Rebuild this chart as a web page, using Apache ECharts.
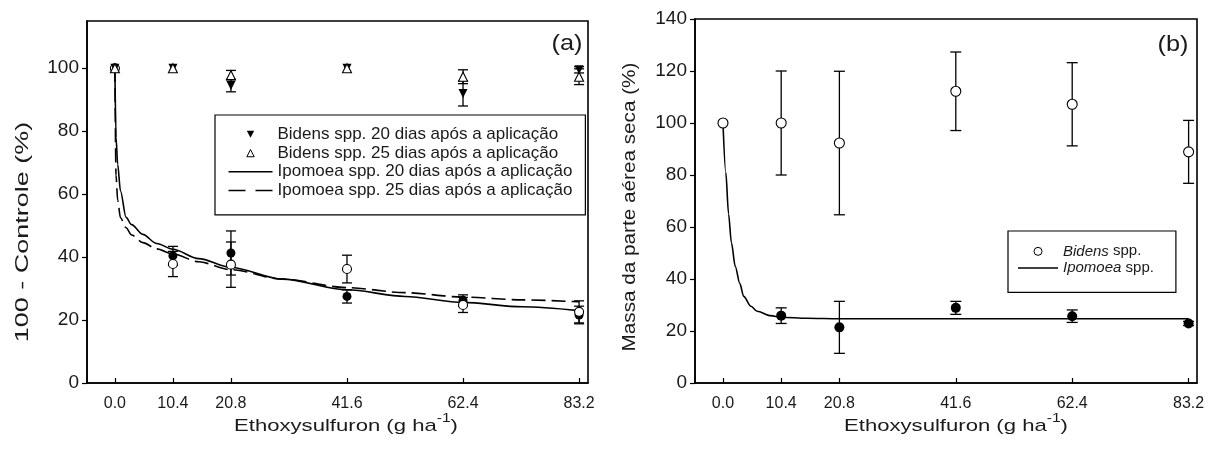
<!DOCTYPE html>
<html><head><meta charset="utf-8">
<script src="https://cdn.jsdelivr.net/npm/echarts@6/dist/echarts.min.js"></script>
<style>html,body{margin:0;padding:0;background:#fff}#c{width:1208px;height:458px}</style>
</head><body><div id="c"></div>
<script>
// ---------- data ----------
const doses = [0, 10.4, 20.8, 41.6, 62.4, 83.2];
const yTicksA = [0, 20, 40, 60, 80, 100];
const yTicksB = [0, 20, 40, 60, 80, 100, 120, 140];

// panel (a)
const bidens20 = [100, 100, 94.5, 100, 92, 99.5];
const bidens20Err = [0, 0, 2, 0, 4, 1];
const bidens25 = [100, 100, 97.8, 100, 97.3, 97.3];
const bidens25Err = [0, 0, 1.5, 0, 2.2, 2.5];
const ipo20 = [100, 40.4, 41.3, 27.5, 26.2, 21.6];
const ipo20Err = [0, 3, 7, 2.1, 1.8, 2.8];
const ipo25 = [100, 37.8, 37.6, 36.2, 24.8, 22.6];
const ipo25Err = [0, 4, 7.2, 4.4, 2.4, 3.5];
const fitXA = [0, 0.2, 0.5, 1, 2, 3, 5, 7.5, 10.4, 15, 20.8, 30, 41.6, 52, 62.4, 73, 83.2];
const ipo20Fit = [100, 78, 69.5, 61, 52.6, 50.3, 47.2, 44.3, 42.5, 39.5, 36.7, 33, 29.6, 27.5, 25.6, 24.2, 23];
const ipo25Fit = [100, 66, 58, 52.5, 49.3, 47, 44.6, 42.6, 41, 38.5, 36, 33, 30.3, 28.7, 27.3, 26.4, 25.8];

// panel (b)
const bidensB = [100, 100, 92.3, 112.2, 107.2, 88.9];
const bidensBErr = [0, 20, 27.6, 15.1, 16, 12.1];
const ipoB = [100, 25.9, 21.4, 28.9, 25.7, 22.9];
const ipoBErr = [0, 3, 10, 2.5, 2.4, 0.8];
const fitXB = [0, 0.5, 1, 1.5, 2.2, 3, 3.7, 5, 6.1, 8.5, 10.4, 15, 20.8, 41.6, 62.4, 83.2];
const ipoBFit = [100, 81, 65, 54, 44.8, 38.3, 33.3, 29.5, 27.6, 25.9, 25.3, 24.9, 24.7, 24.7, 24.7, 24.7];

const nA = ['Bidens spp. 20 dias após a aplicação', 'Bidens spp. 25 dias após a aplicação',
            'Ipomoea spp. 20 dias após a aplicação', 'Ipomoea spp. 25 dias após a aplicação'];
const nB = ['Bidens spp.', 'Ipomoea spp.'];

// ---------- helpers ----------
const FF = '"Liberation Sans", Arial, sans-serif';
const TC = '#1a1a1a';
const zip = (xs, ys) => xs.map((x, i) => [x, ys[i]]);
const errData = (v, e) => doses.map((d, i) => [d, v[i] - e[i], v[i] + e[i]]).filter((r, i) => e[i] > 0);

function errRender(cap) {
  return function (params, api) {
    const x = api.value(0), lo = api.value(1), hi = api.value(2);
    const a = api.coord([x, hi]), b = api.coord([x, lo]);
    const s = { stroke: '#000', lineWidth: 1.3 };
    return { type: 'group', children: [
      { type: 'line', shape: { x1: a[0], y1: a[1], x2: b[0], y2: b[1] }, style: s },
      { type: 'line', shape: { x1: a[0] - cap, y1: a[1], x2: a[0] + cap, y2: a[1] }, style: s },
      { type: 'line', shape: { x1: b[0] - cap, y1: b[1], x2: b[0] + cap, y2: b[1] }, style: s }
    ]};
  };
}
function errSeries(idx, v, e, cap) {
  return { type: 'custom', xAxisIndex: idx, yAxisIndex: idx, renderItem: errRender(cap),
    encode: { x: 0, y: [1, 2] }, data: errData(v, e), z: 2, silent: true };
}
function xAx(idx, min, max) {
  return { type: 'value', gridIndex: idx, min: min, max: max,
    axisLine: { show: true, onZero: false, lineStyle: { color: '#000', width: 1.6 } },
    axisTick: { show: true, inside: true, length: 5, customValues: doses, lineStyle: { color: '#000', width: 1.2 } },
    axisLabel: { customValues: doses, formatter: v => v.toFixed(1), fontSize: 16, fontFamily: FF, color: TC, margin: 13 },
    splitLine: { show: false } };
}
function yAx(idx, max, ticks) {
  return { type: 'value', gridIndex: idx, min: 0, max: max,
    axisLine: { show: true, onZero: false, lineStyle: { color: '#000', width: 1.6 } },
    axisTick: { show: true, inside: false, length: 5, customValues: ticks, lineStyle: { color: '#000', width: 1.2 } },
    axisLabel: { customValues: ticks, fontSize: 19, fontFamily: FF, color: TC, margin: 8 },
    splitLine: { show: false } };
}
function sc(idx, name, v, opts) {
  return Object.assign({ type: 'scatter', name: name, xAxisIndex: idx, yAxisIndex: idx,
    data: zip(doses, v), z: 4, symbolSize: 9 }, opts);
}
const filled = { color: '#000', borderColor: '#000', borderWidth: 0, opacity: 1 };
const open = { color: '#fff', borderColor: '#000', borderWidth: 1.1, opacity: 1 };
const lineIcon = 'path://M0,0 L44,0 L44,1.6 L0,1.6 Z';
const dashIcon = 'path://M0,0 L17,0 L17,1.6 L0,1.6 Z M27,0 L44,0 L44,1.6 L27,1.6 Z';
const lineIconB = 'path://M0,0 L40,0 L40,1.6 L0,1.6 Z';
// icon boxes padded with move-to points so the triangle keeps its shape
const triDownIcon = 'path://M0,0 M44,9 M18.3,0.8 L25.7,0.8 L22,8 Z';
const triUpIcon = 'path://M0,0 M44,9 M22,1 L25.7,8.2 L18.3,8.2 Z';

const option = {
  animation: false,
  backgroundColor: '#fff',
  grid: [
    { left: 87, top: 21, width: 501, height: 362, show: true, borderColor: '#000', borderWidth: 1.6 },
    { left: 695, top: 19, width: 502, height: 364, show: true, borderColor: '#000', borderWidth: 1.6 }
  ],
  xAxis: [xAx(0, -5, 84.8), xAx(1, -5, 84.7)],
  yAxis: [yAx(0, 115, yTicksA), yAx(1, 140, yTicksB)],
  legend: [
    { left: 215, top: 115, orient: 'vertical', itemWidth: 44, itemHeight: 9, itemGap: 0,
      padding: [10, 13, 15, 13], borderColor: '#000', borderWidth: 1.2, backgroundColor: '#fff',
      selectedMode: false, symbolRotate: 0, symbolKeepAspect: true,
      textStyle: { fontSize: 17, fontFamily: FF, color: TC, lineHeight: 18.7 },
      data: [
        { name: nA[0], icon: triDownIcon, itemStyle: { borderWidth: 0, color: '#000', opacity: 1 } },
        { name: nA[1], icon: triUpIcon, itemStyle: { borderWidth: 1, borderColor: '#000', color: '#fff', opacity: 1 } },
        { name: nA[2], icon: lineIcon, itemStyle: { borderWidth: 0, color: '#000', opacity: 1 } },
        { name: nA[3], icon: dashIcon, itemStyle: { borderWidth: 0, color: '#000', opacity: 1 } }
      ] },
    { left: 1008, top: 231, orient: 'vertical', itemWidth: 40, itemHeight: 8, itemGap: 0,
      padding: [12, 22, 16, 10], borderColor: '#000', borderWidth: 1.2, backgroundColor: '#fff',
      selectedMode: false, symbolKeepAspect: true,
      textStyle: { fontSize: 15, fontFamily: FF, color: TC, lineHeight: 16.7,
        rich: { i: { fontStyle: 'italic', fontSize: 15, fontFamily: FF, color: TC, lineHeight: 16.7 } } },
      formatter: n => '{i|' + n.split(' ')[0] + '} ' + n.split(' ').slice(1).join(' '),
      data: [
        { name: nB[0], icon: 'circle', itemStyle: { borderWidth: 1, borderColor: '#000', color: '#fff', opacity: 1 } },
        { name: nB[1], icon: lineIconB, itemStyle: { borderWidth: 0, color: '#000', opacity: 1 } }
      ] }
  ],
  graphic: [
    { type: 'text', x: 23.5, y: 232, rotation: Math.PI / 2, scaleX: 1.5, z: 10,
      style: { text: '100 - Controle (%)', font: '18px ' + FF, fill: TC, align: 'center', verticalAlign: 'middle' } },
    { type: 'text', x: 630.5, y: 207, rotation: Math.PI / 2, scaleX: 1.15, z: 10,
      style: { text: 'Massa da parte aérea seca (%)', font: '18px ' + FF, fill: TC, align: 'center', verticalAlign: 'middle' } },
    { type: 'text', x: 346, y: 423.5, scaleX: 1.3, z: 10,
      style: { text: '{n|Ethoxysulfuron (g ha}{s|-1}{n|)}', align: 'center', verticalAlign: 'middle',
        rich: { n: { fontSize: 17, fontFamily: FF, fill: TC, lineHeight: 22, verticalAlign: 'bottom' },
                s: { fontSize: 12, fontFamily: FF, fill: TC, lineHeight: 22, verticalAlign: 'top' } } } },
    { type: 'text', x: 956, y: 423.5, scaleX: 1.3, z: 10,
      style: { text: '{n|Ethoxysulfuron (g ha}{s|-1}{n|)}', align: 'center', verticalAlign: 'middle',
        rich: { n: { fontSize: 17, fontFamily: FF, fill: TC, lineHeight: 22, verticalAlign: 'bottom' },
                s: { fontSize: 12, fontFamily: FF, fill: TC, lineHeight: 22, verticalAlign: 'top' } } } },
    { type: 'text', x: 567, y: 44, scaleX: 1.15, z: 10,
      style: { text: '(a)', font: '22px ' + FF, fill: TC, align: 'center', verticalAlign: 'middle' } },
    { type: 'text', x: 1173, y: 45, scaleX: 1.15, z: 10,
      style: { text: '(b)', font: '22px ' + FF, fill: TC, align: 'center', verticalAlign: 'middle' } }
  ],
  series: [
    // panel (a)
    { type: 'line', name: nA[2], xAxisIndex: 0, yAxisIndex: 0, data: zip(fitXA, ipo20Fit),
      symbol: 'none', smooth: 0.3, smoothMonotone: 'x', z: 3, color: '#000',
      lineStyle: { color: '#000', width: 1.6 } },
    { type: 'line', name: nA[3], xAxisIndex: 0, yAxisIndex: 0, data: zip(fitXA, ipo25Fit),
      symbol: 'none', smooth: 0.3, smoothMonotone: 'x', z: 3, color: '#000',
      lineStyle: { color: '#000', width: 1.6, type: [14, 6] } },
    errSeries(0, ipo20, ipo20Err, 5),
    errSeries(0, ipo25, ipo25Err, 5),
    errSeries(0, bidens20, bidens20Err, 5),
    errSeries(0, bidens25, bidens25Err, 5),
    sc(0, 'ipo20pts', ipo20, { itemStyle: filled }),
    sc(0, 'ipo25pts', ipo25, { itemStyle: open }),
    sc(0, nA[0], bidens20, { symbol: 'triangle', symbolRotate: 180, symbolSize: 9, itemStyle: filled }),
    sc(0, nA[1], bidens25, { symbol: 'triangle', symbolSize: 9, itemStyle: open }),
    // panel (b)
    { type: 'line', name: nB[1], xAxisIndex: 1, yAxisIndex: 1, data: zip(fitXB, ipoBFit),
      symbol: 'none', smooth: 0.3, smoothMonotone: 'x', z: 3, color: '#000',
      lineStyle: { color: '#000', width: 1.6 } },
    errSeries(1, ipoB, ipoBErr, 5.5),
    errSeries(1, bidensB, bidensBErr, 5.5),
    sc(1, 'ipoBpts', ipoB, { symbolSize: 10, itemStyle: filled }),
    sc(1, nB[0], bidensB, { symbolSize: 10, itemStyle: open })
  ]
};
const chart = echarts.init(document.getElementById('c'), null, { renderer: 'canvas' });
chart.setOption(option);
</script></body></html>
